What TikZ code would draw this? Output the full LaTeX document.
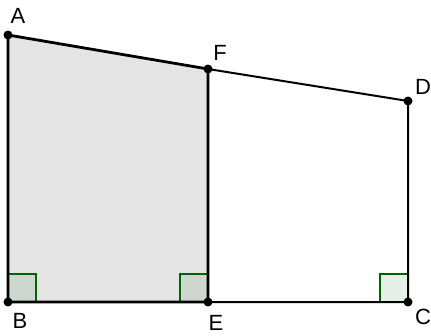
\documentclass[tikz,border=0pt]{standalone}
\usepackage{fontspec}
\setmainfont{Liberation Sans}
\usetikzlibrary{positioning, calc}
\definecolor{shadeGray}{RGB}{229,229,229}
\definecolor{angleGreen}{RGB}{0,100,0}
\tikzset{
    ptNode/.style={
        circle,
        fill=black,
        inner sep=0pt,
        minimum size=9pt
    },
    edgeThick/.style={
        line width=2.8pt
    },
    edgeThin/.style={
        line width=2pt
    },
    rightMark/.style={
        draw=angleGreen,
        line width=1.8pt,
        fill=angleGreen,
        fill opacity=0.1
    },
    ptLabel/.style={
        font=\fontsize{22}{22}\selectfont,
        inner sep=0pt
    }
}
\begin{document}
\begin{tikzpicture}[x=1pt, y=-1pt]
        \useasboundingbox (0,0) rectangle (431,335);

        % Coordinate Definitions
        \coordinate (A) at (8, 35);      % Top Left
        \coordinate (F) at (208, 69);    % Top Middle
        \coordinate (D) at (408, 101);   % Top Right
        \coordinate (B) at (8, 302);     % Bottom Left
        \coordinate (E) at (208, 302);   % Bottom Middle
        \coordinate (C) at (408, 302);   % Bottom Right

        % Shaded quadrilateral
        \fill[shadeGray] (A) -- (B) -- (E) -- (F) -- cycle;

        % Right angle marks
        \draw[rightMark] (B) rectangle ++(28, -28);
        \draw[rightMark] (E) rectangle ++(-28, -28);
        \draw[rightMark] (C) rectangle ++(-28, -28);

        % Edges
        \draw[edgeThin] (F) -- (D) -- (C) -- (E);
        \draw[edgeThick] (A) -- (B) -- (E) -- (F) -- cycle;

        % Points
        \foreach \p in {A, B, C, D, E, F} {
            \node[ptNode] (dot\p) at (\p) {};
        }

        % Labels
        \node[ptLabel] (lblA) at (18, 16) {A};
        \node[ptLabel] (lblF) at (220, 53) {F};
        \node[ptLabel] (lblD) at (423, 87) {D};
        \node[ptLabel] (lblB) at (20, 321) {B};
        \node[ptLabel] (lblE) at (216, 323) {E};
        \node[ptLabel] (lblC) at (423, 317) {C};

    \end{tikzpicture}
\end{document}
